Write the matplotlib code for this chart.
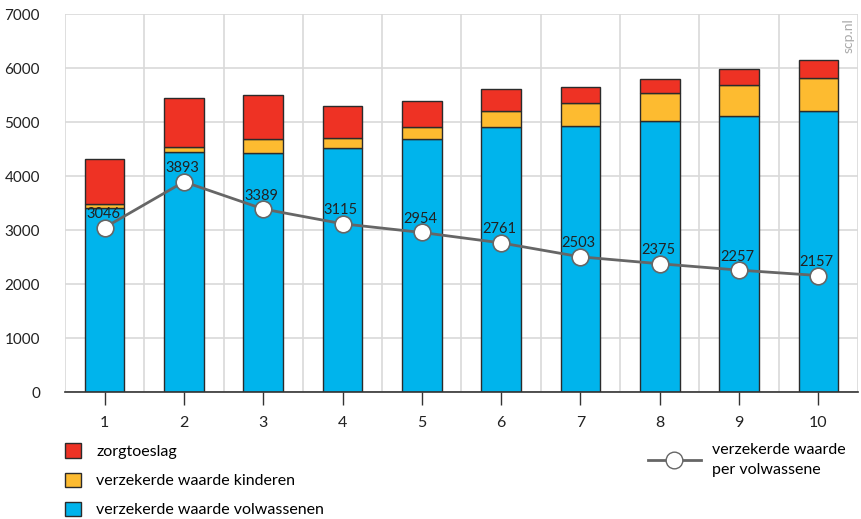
import matplotlib.pyplot as plt
from matplotlib.patches import Patch
from matplotlib.lines import Line2D

plt.rcParams['font.family'] = ['Lato', 'DejaVu Sans']

### data ####
groups = [1, 2, 3, 4, 5, 6, 7, 8, 9, 10]
volwassenen = [3410, 4440, 4430, 4510, 4690, 4910, 4930, 5020, 5110, 5200]
kinderen = [70, 100, 260, 190, 220, 290, 420, 520, 580, 610]
zorgtoeslag = [830, 900, 810, 600, 480, 410, 300, 260, 290, 340]
per_volwassene = [3046, 3893, 3389, 3115, 2954, 2761, 2503, 2375, 2257, 2157]

c_blue = '#00b4ec'
c_yellow = '#fdbb30'
c_red = '#ee3224'
c_edge = '#2b2b2b'
c_line = '#666666'

fig = plt.figure(figsize=(8.61, 5.19), dpi=100)
ax = fig.add_axes([0.0755, 0.2447, 0.9210, 0.7283])

w = 0.5
bot2 = [a + b for a, b in zip(volwassenen, kinderen)]
ax.bar(groups, volwassenen, w, color=c_blue, edgecolor=c_edge, linewidth=1, zorder=2)
ax.bar(groups, kinderen, w, bottom=volwassenen, color=c_yellow, edgecolor=c_edge, linewidth=1, zorder=2)
ax.bar(groups, zorgtoeslag, w, bottom=bot2, color=c_red, edgecolor=c_edge, linewidth=1, zorder=2)

ax.plot(groups, per_volwassene, color=c_line, lw=2, marker='o', markersize=12,
        markerfacecolor='white', markeredgecolor=c_line, markeredgewidth=1.2, zorder=4)
for x, v in zip(groups, per_volwassene):
    ax.text(x - 0.02, v + 120, str(v), ha='center', va='bottom', fontsize=10.5,
            color='#222222', zorder=5)

### axes styling ####
ax.set_xlim(0.5, 10.5)
ax.set_ylim(0, 7000)
ax.set_yticks(range(0, 7001, 1000))
ax.set_xticks(groups)
ax.set_xticks([g + 0.5 for g in range(0, 11)], minor=True)
ax.grid(axis='y', color='#d9d9d9', lw=1.2, zorder=0)
ax.grid(axis='x', which='minor', color='#d9d9d9', lw=1.2, zorder=0)
ax.tick_params(axis='y', length=0, labelsize=11, pad=18, colors='#222222')
ax.tick_params(axis='x', which='major', length=9, width=1, color='#333333',
               labelsize=11.5, pad=8, labelcolor='#222222')
ax.tick_params(axis='x', which='minor', length=0)
for s in ['top', 'right', 'left']:
    ax.spines[s].set_visible(False)
ax.spines['bottom'].set_color('#333333')
ax.spines['bottom'].set_linewidth(1.2)
ax.spines['bottom'].set_zorder(3)

fig.text(0.985, 0.965, 'scp.nl', rotation=90, ha='center', va='top',
         fontsize=10, color='#aaaaaa')

### legends ####
h1 = [Patch(facecolor=c_red, edgecolor=c_edge, label='zorgtoeslag'),
      Patch(facecolor=c_yellow, edgecolor=c_edge, label='verzekerde waarde kinderen'),
      Patch(facecolor=c_blue, edgecolor=c_edge, label='verzekerde waarde volwassenen')]
fig.legend(handles=h1, loc='upper left', bbox_to_anchor=(0.068, 0.158), frameon=False,
           fontsize=11.5, handlelength=1.0, handleheight=1.0, handletextpad=0.95,
           labelspacing=0.85, borderaxespad=0)

h2 = [Line2D([], [], color=c_line, lw=2, marker='o', markersize=12, markerfacecolor='white',
             markeredgecolor=c_line, label='verzekerde waarde\nper volwassene')]
leg2 = fig.legend(handles=h2, loc='upper left', bbox_to_anchor=(0.745, 0.158), frameon=False,
                  fontsize=11.5, handlelength=3.3, handletextpad=0.7, borderaxespad=0)
for t in leg2.get_texts():
    t.set_linespacing(1.55)

fig.savefig('out.png', dpi=100)
